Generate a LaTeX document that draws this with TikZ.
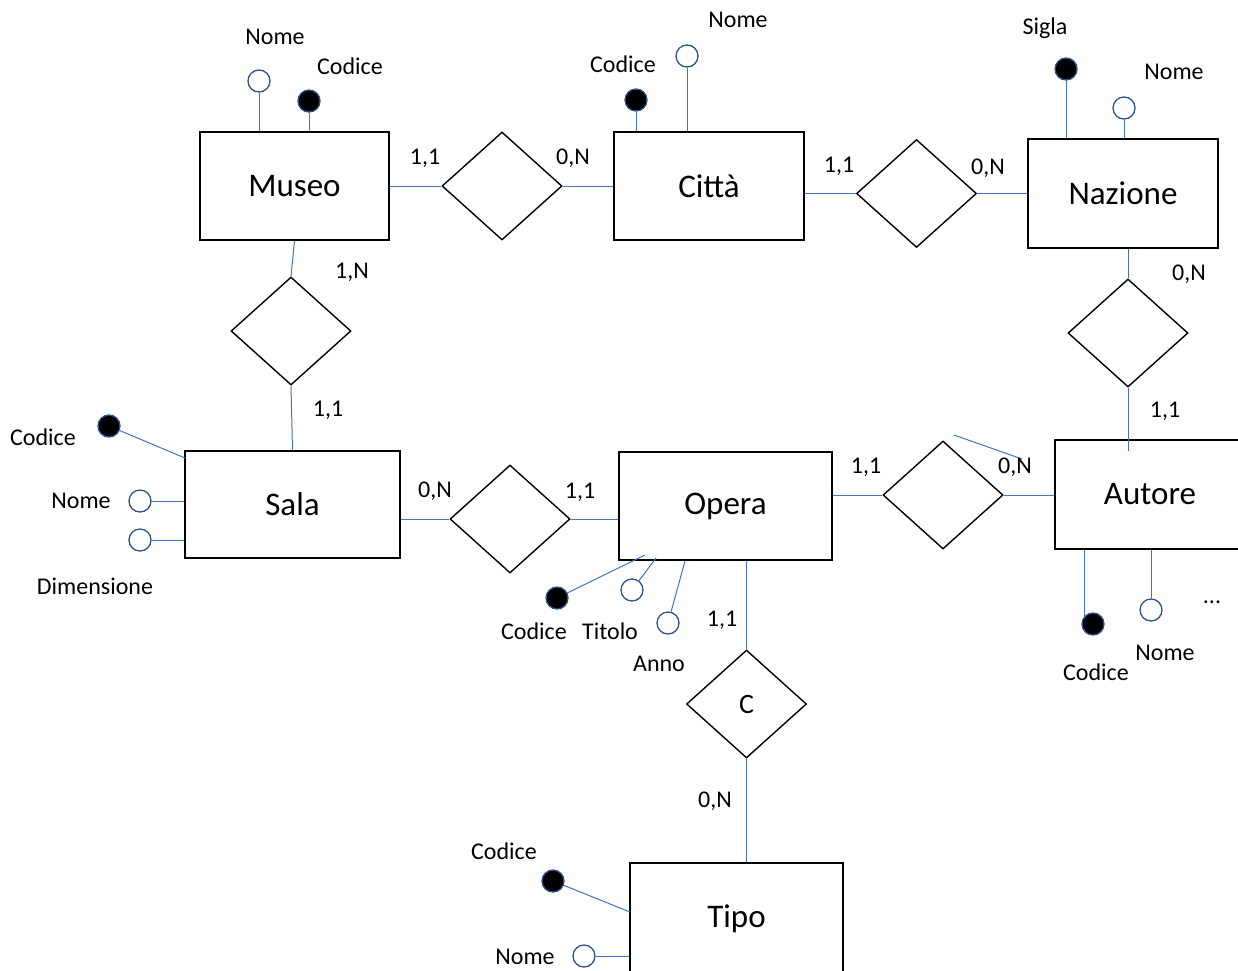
\documentclass[tikz,border=0pt]{standalone}
\usepackage{fontspec}
\setmainfont{Carlito}
\usetikzlibrary{shapes.geometric,calc}
\definecolor{linkblue}{HTML}{4472C4}
\definecolor{ringblue}{HTML}{2F528F}
\tikzset{
  entity/.style={draw=black, line width=1.5pt, fill=white, font=\fontsize{33}{38}\selectfont, inner sep=0pt},
  rel/.style={draw=black, line width=1.4pt, diamond, minimum width=120pt, minimum height=108pt, inner sep=0pt, font=\fontsize{28}{33}\selectfont},
  conn/.style={draw=linkblue, line width=1pt},
  attropen/.style={circle, draw=ringblue, line width=1.3pt, fill=white, minimum size=22pt, inner sep=0pt},
  attrkey/.style={circle, draw=ringblue, line width=1.3pt, fill=black, minimum size=22pt, inner sep=0pt},
  lbl/.style={font=\fontsize{24}{28}\selectfont, inner sep=0pt},
}
\begin{document}
\begin{tikzpicture}[x=1pt, y=-1pt]
\clip (0,0) rectangle (1238,970);
\fill[white] (0,0) rectangle (1238,970);

% entities
\node[entity, minimum width=189pt, minimum height=108pt] (museo) at (294.5,186) {Museo};
\node[entity, minimum width=190pt, minimum height=108pt] (citta) at (709,186) {Città};
\node[entity, minimum width=190pt, minimum height=109pt] (naz) at (1123,193.5) {Nazione};
\node[entity, minimum width=215pt, minimum height=107pt] (sala) at (292.5,504.5) {Sala};
\node[entity, minimum width=213pt, minimum height=108pt] (opera) at (725.5,506) {Opera};
\node[entity, minimum width=190pt, minimum height=109pt] (aut) at (1150,494.5) {Autore};
\node[entity, minimum width=213pt, minimum height=112pt] (tipo) at (736.5,919) {Tipo};

% relationships
\node[rel] (r1) at (502,186) {};
\node[rel] (r2) at (916.5,193.5) {};
\node[rel] (r3) at (291,331) {};
\node[rel] (r4) at (1128,333) {};
\node[rel] (r5) at (510,519) {};
\node[rel] (r6) at (943,495) {};
\node[rel] (rc) at (746.5,704) {C};

% relationship links
\draw[conn] (museo.east) -- (r1.west);
\draw[conn] (r1.east) -- (citta.west);
\draw[conn] (r2.west -| citta.east) -- (r2.west);
\draw[conn] (r2.east) -- (r2.east -| naz.west);
\draw[conn] (museo.south) -- (r3.north);
\draw[conn] (r3.south) -- (sala.north);
\draw[conn] (r4.north |- naz.south) -- (r4.north);
\draw[conn] (r4.south) -- ($(r4.south |- aut.north)+(0,12)$);
\draw[conn] (sala.east |- r5.west) -- (r5.west);
\draw[conn] (r5.east) -- (r5.east -| opera.west);
\draw[conn] (r6.west -| opera.east) -- (r6.west);
\draw[conn] (r6.east) -- (r6.east -| aut.west);
\draw[conn] (rc.north |- opera.south) -- (rc.north);
\draw[conn] (rc.south) -- (rc.south |- tipo.north);
\coordinate (s1) at (954,435);
\coordinate (s2) at (1022,459);
\draw[conn] (s1) -- (s2);

% cardinalities
\node[lbl] at (425,158) {1,1};
\node[lbl] at (573,158) {0,N};
\node[lbl] at (839,166) {1,1};
\node[lbl] at (988,168) {0,N};
\node[lbl] at (352,272) {1,N};
\node[lbl] at (328,410) {1,1};
\node[lbl] at (1189,274) {0,N};
\node[lbl] at (1165,411) {1,1};
\node[lbl] at (435,491) {0,N};
\node[lbl] at (580,492) {1,1};
\node[lbl] at (866,467) {1,1};
\node[lbl] at (1015,467) {0,N};
\node[lbl] at (722,620) {1,1};
\node[lbl] at (715,801) {0,N};

% Museo attributes
\node[attropen] (mNome) at (259,81) {};
\node[attrkey] (mCod) at (309,101) {};
\draw[conn] (mNome) -- (mNome |- museo.north);
\draw[conn] (mCod) -- (mCod |- museo.north);
\node[lbl] at (275,37) {Nome};
\node[lbl] at (350,66) {Codice};

% Città attributes
\node[attrkey] (cCod) at (636,100) {};
\node[attropen] (cNome) at (687,56) {};
\draw[conn] (cCod) -- (cCod |- citta.north);
\draw[conn] (cNome) -- (cNome |- citta.north);
\node[lbl] at (623,64) {Codice};
\node[lbl] at (738,20) {Nome};

% Nazione attributes
\node[attrkey] (nSig) at (1066,69) {};
\node[attropen] (nNome) at (1124,108) {};
\draw[conn] (nSig) -- (nSig |- naz.north);
\draw[conn] (nNome) -- (nNome |- naz.north);
\node[lbl] at (1045,28) {Sigla};
\node[lbl] at (1174,72) {Nome};

% Sala attributes
\node[attrkey] (sCod) at (109,426) {};
\node[attropen] (sNome) at (140,501) {};
\node[attropen] (sDim) at (140,540) {};
\coordinate (sCodEnd) at (185,458);
\draw[conn] (sCod) -- (sCodEnd);
\draw[conn] (sNome) -- (sNome -| sala.west);
\draw[conn] (sDim) -- (sDim -| sala.west);
\node[lbl] at (43,437) {Codice};
\node[lbl] at (81,501) {Nome};
\node[lbl] at (95,586) {Dimensione};

% Opera attributes
\node[attrkey] (oCod) at (557,598) {};
\node[attropen] (oTit) at (632,590) {};
\node[attropen] (oAnno) at (668,623) {};
\coordinate (oCodEnd) at (645,555);
\coordinate (oTitEnd) at (656,558);
\coordinate (oAnnoEnd) at (685,561);
\draw[conn] (oCod) -- (oCodEnd);
\draw[conn] (oTit) -- (oTitEnd);
\draw[conn] (oAnno) -- (oAnnoEnd);
\node[lbl] at (534,631) {Codice};
\node[lbl] at (610,631) {Titolo};
\node[lbl] at (659,664) {Anno};

% Autore attributes
\node[attrkey] (aCod) at (1093,624) {};
\node[attropen] (aNome) at (1151,610) {};
\draw[conn] (aCod.north west) -- (aCod.north west |- aut.south);
\draw[conn] (aNome) -- (aNome |- aut.south);
\node[lbl] at (1096,672) {Codice};
\node[lbl] at (1165,653) {Nome};
\node[lbl] at (1212,602) {...};

% Tipo attributes
\node[attrkey] (tCod) at (553,881) {};
\node[attropen] (tNome) at (584,956) {};
\coordinate (tCodEnd) at (630,912);
\draw[conn] (tCod) -- (tCodEnd);
\draw[conn] (tNome) -- (tNome -| tipo.west);
\node[lbl] at (504,851) {Codice};
\node[lbl] at (525,957) {Nome};
\end{tikzpicture}
\end{document}
